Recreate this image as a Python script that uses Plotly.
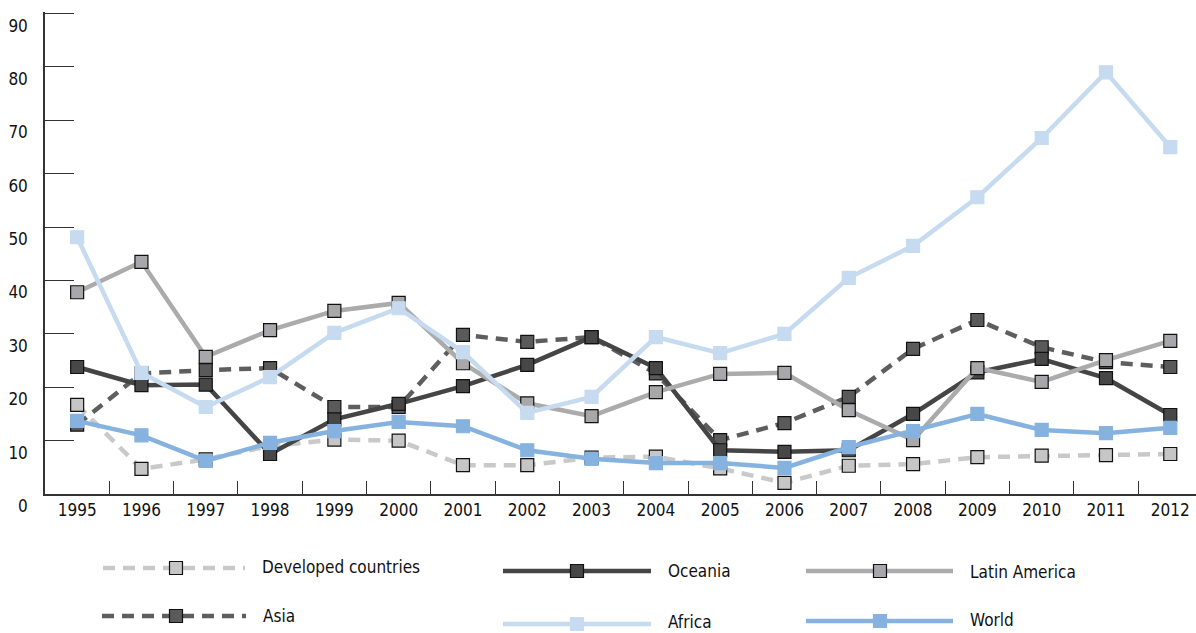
import plotly.graph_objects as go

years = [str(y) for y in range(1995, 2013)]
developed = [16.7, 4.7, 6.5, 9.0, 10.2, 10.0, 5.4, 5.4, 6.8, 7.0, 4.8, 2.1, 5.3, 5.6, 6.9, 7.2, 7.3, 7.5]
asia = [13.0, 22.6, 23.2, 23.6, 16.3, 16.3, 29.8, 28.5, 29.4, 22.6, 10.1, 13.3, 18.2, 27.2, 32.6, 27.5, 24.7, 23.8]
oceania = [23.8, 20.4, 20.5, 7.5, 14.0, 16.9, 20.2, 24.2, 29.4, 23.6, 8.2, 7.9, 8.2, 15.0, 22.8, 25.3, 21.7, 14.8]
latin = [37.8, 43.5, 25.7, 30.7, 34.3, 35.8, 24.5, 17.0, 14.6, 19.1, 22.5, 22.7, 15.7, 10.1, 23.6, 21.0, 25.1, 28.7]
africa = [48.1, 22.7, 16.3, 21.9, 30.2, 34.8, 26.6, 15.2, 18.2, 29.4, 26.4, 30.0, 40.5, 46.5, 55.6, 66.7, 79.0, 65.0]
world = [13.7, 11.0, 6.2, 9.6, 11.8, 13.5, 12.7, 8.2, 6.6, 5.8, 5.8, 4.9, 8.8, 11.8, 15.0, 12.0, 11.4, 12.4]
yticks = [0, 10, 20, 30, 40, 50, 60, 70, 80, 90]

FONT = "DejaVu Sans Condensed, Liberation Sans Narrow, Roboto, sans-serif"

styles = {
    "Developed countries": dict(color="#c9c9c9", mfill="#c6c6c6", outline="#111111", dash="12px,8px"),
    "Asia": dict(color="#5e5e5e", mfill="#5a5a5a", outline="#111111", dash="12px,8px"),
    "Oceania": dict(color="#454545", mfill="#474747", outline="#111111", dash="solid"),
    "Latin America": dict(color="#ababab", mfill="#a8a8aa", outline="#111111", dash="solid"),
    "Africa": dict(color="#c6daf0", mfill="#c6daf0", outline="#c6daf0", dash="solid"),
    "World": dict(color="#86b2e0", mfill="#86b2e0", outline="#86b2e0", dash="solid"),
}
series = [("Developed countries", developed), ("Asia", asia), ("Oceania", oceania),
          ("Latin America", latin), ("Africa", africa), ("World", world)]

fig = go.Figure()
for name, vals in series:
    s = styles[name]
    fig.add_trace(go.Scatter(
        x=years, y=vals, mode="lines+markers", name=name, showlegend=False,
        line=dict(color=s["color"], width=4.5, dash=s["dash"]),
        marker=dict(symbol="square", size=13, color=s["mfill"],
                    line=dict(color=s["outline"], width=1.2)),
        xaxis="x", yaxis="y", cliponaxis=False,
    ))

# custom legend drawn on a hidden pixel-like axis below the plot
legend_items = [
    ("Developed countries", 103, 245, 176, 568, 567),
    ("Oceania", 503, 651, 577, 571, 571),
    ("Latin America", 806, 953, 880, 571, 572),
    ("Asia", 102, 246, 176, 616, 616),
    ("Africa", 503, 651, 577, 624, 622),
    ("World", 806, 953, 880, 621, 620),
]
annotations = []
for name, x0, x1, xm, yl, yt in legend_items:
    s = styles[name]
    fig.add_trace(go.Scatter(
        x=[x0, x1], y=[yl, yl], mode="lines", showlegend=False, hoverinfo="skip",
        line=dict(color=s["color"], width=4.5, dash=s["dash"]),
        xaxis="x2", yaxis="y2", cliponaxis=False,
    ))
    fig.add_trace(go.Scatter(
        x=[xm], y=[yl], mode="markers", showlegend=False, hoverinfo="skip",
        marker=dict(symbol="square", size=13, color=s["mfill"],
                    line=dict(color=s["outline"], width=1.2)),
        xaxis="x2", yaxis="y2", cliponaxis=False,
    ))
    annotations.append(dict(x=x1 + 15, y=yt, xref="x2", yref="y2", text=name,
                            showarrow=False, xanchor="left", yanchor="middle",
                            font=dict(family=FONT, size=17, color="#111111")))

H, W = 633, 1196
ymax = 90.3
bottom_px = 494
px_per_unit = (494 - 13.5) / 90.0
top = 494 - ymax * px_per_unit
dom_bottom = (H - bottom_px) / (H - top)

fig.update_layout(
    template="none",
    width=W, height=H,
    margin=dict(l=45, r=0, t=top, b=0, pad=0),
    paper_bgcolor="white", plot_bgcolor="white",
    font=dict(family=FONT, size=17, color="#111111"),
    annotations=annotations,
    showlegend=False,
    xaxis=dict(type="category", range=[-0.5, 17.4], anchor="y", automargin=False,
               showline=True, linecolor="#333333", linewidth=1.5,
               ticks="inside", tickson="boundaries", ticklen=13, tickcolor="#333333",
               tickwidth=1.2, showgrid=False, zeroline=False,
               tickfont=dict(family=FONT, size=17, color="#111111")),
    yaxis=dict(domain=[dom_bottom, 1], range=[0, ymax], tickvals=yticks, automargin=False,
               showline=True, linecolor="#333333", linewidth=1.5,
               ticks="inside", ticklen=29, tickcolor="#333333", tickwidth=1.2,
               showgrid=False, zeroline=False, ticklabelstandoff=12,
               ticklabelshift=12,
               tickfont=dict(family=FONT, size=17, color="#111111")),
    xaxis2=dict(domain=[0, 1], range=[45, 1196], anchor="y2", visible=False),
    yaxis2=dict(domain=[0, dom_bottom], range=[H, bottom_px], anchor="x2", visible=False),
)

fig.write_html("out.html", config={"displayModeBar": False},
               post_script="document.body.style.margin='0';")
